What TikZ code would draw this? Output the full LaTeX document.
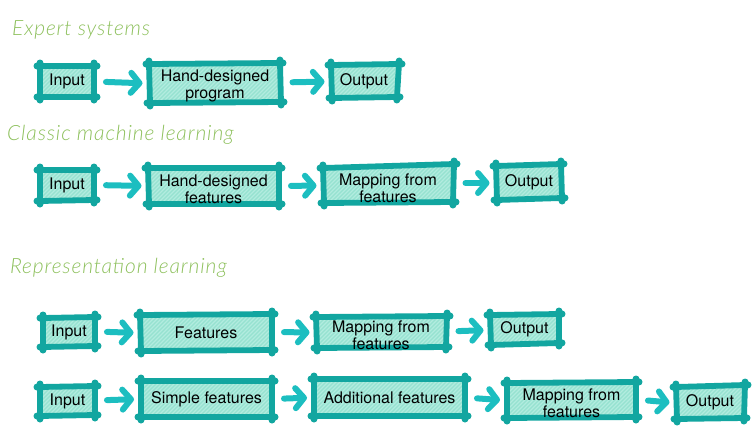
\documentclass[tikz,border=0pt]{standalone}
\usepackage{fontspec}
\setmainfont{TeX Gyre Heros}
\newfontfamily\handfont{Lato Light}[LetterSpace=4]
\usetikzlibrary{calc,arrows.meta}

\definecolor{borderc}{RGB}{18,166,160}
\definecolor{arrowc}{RGB}{28,190,192}
\definecolor{fillc}{RGB}{150,226,208}
\definecolor{hatchc}{RGB}{178,236,223}
\definecolor{titlec}{RGB}{141,192,92}

\tikzset{
  boxfill/.style={fill=fillc},
  hatch/.style={draw=hatchc, line width=1.2pt},
  border/.style={draw=borderc, line width=5.8pt, line cap=round},
  blob/.style={fill=borderc},
  boxtext/.style={inner sep=0pt, align=center, text=black,
    font=\fontsize{16}{17}\selectfont},
  twoline/.style={yshift=-3pt},
  arr/.style={draw=arrowc, line width=6pt, line cap=round,
    -{Straight Barb[length=8.5pt,width=20pt,line cap=round,line join=round]},
    shorten <=12pt, shorten >=7pt},
  title/.style={anchor=base west, inner sep=0pt, text=titlec,
    font=\handfont\itshape\fontsize{21}{24}\selectfont},
}

% sketchy box: [label options], name, corners TL, TR, BR, BL, label
\newcommand\skbox[7][]{%
  \coordinate (#2-tl) at (#3);
  \coordinate (#2-tr) at (#4);
  \coordinate (#2-br) at (#5);
  \coordinate (#2-bl) at (#6);
  \coordinate (#2-e) at ($(#2-tr)!0.5!(#2-br)$);
  \coordinate (#2-w) at ($(#2-tl)!0.5!(#2-bl)$);
  \fill[boxfill] (#2-tl) -- (#2-tr) -- (#2-br) -- (#2-bl) -- cycle;
  \begin{scope}
    \clip (#2-tl) -- (#2-tr) -- (#2-br) -- (#2-bl) -- cycle;
    \foreach \k in {-60,-56,...,172}
      \draw[hatch] ($(#2-bl)+(\k,4)$) -- ++(70,-70);
  \end{scope}
  \draw[border] ($(#2-tl)!-3pt!(#2-tr)$) -- ($(#2-tr)!-3pt!(#2-tl)$);
  \draw[border] ($(#2-tr)!-3pt!(#2-br)$) -- ($(#2-br)!-3pt!(#2-tr)$);
  \draw[border] ($(#2-br)!-3pt!(#2-bl)$) -- ($(#2-bl)!-3pt!(#2-br)$);
  \draw[border] ($(#2-bl)!-3pt!(#2-tl)$) -- ($(#2-tl)!-3pt!(#2-bl)$);
  \foreach \p/\q in {tl/tr,tr/tl,tr/br,br/tr,br/bl,bl/br,bl/tl,tl/bl}
    \fill[blob] ($(#2-\p)!-3pt!(#2-\q)$) circle (3.5pt);
  \node[boxtext,#1] (#2) at ($(#2-tl)!0.5!(#2-br)$) {#7};
}

\begin{document}
\begin{tikzpicture}[x=1pt,y=-1pt]
  \useasboundingbox (0,0) rectangle (753,426);

  % section titles
  \node[title] (t1) at (12,35) {Expert systems};
  \node[title] (t2) at (7,140) {Classic machine learning};
  \node[title] (t3) at (10,273) {Representation learning};

  % expert systems
  \skbox{a1}{40,66}{94,66}{94,97}{40,97}{Input}
  \skbox[twoline]{a2}{149,64}{280,63}{281,102}{150,103}{Hand-designed\\program}
  \skbox{a3}{331,65}{399,64}{397,97}{332,98}{Output}
  \draw[arr] (a1-e) -- (a2-w);
  \draw[arr] (a2-e) -- (a3-w);

  % classic machine learning
  \skbox{b1}{40,170}{94,170}{94,200}{40,201}{Input}
  \skbox[twoline]{b2}{148,168}{279,168}{279,204}{149,204}{Hand-designed\\features}
  \skbox[twoline]{b3}{323,168}{454,164}{453,202}{324,203}{Mapping from\\features}
  \skbox{b4}{496,166}{561,164}{562,198}{497,200}{Output}
  \draw[arr] (b1-e) -- (b2-w);
  \draw[arr] (b2-e) -- (b3-w);
  \draw[arr] (b3-e) -- (b4-w);

  % representation learning
  \skbox{c1}{43,318}{95,317}{95,346}{43,347}{Input}
  \skbox{c2}{140,315}{272,314}{272,350}{141,351}{Features}
  \skbox[twoline]{c3}{316,317}{447,316}{446,347}{317,348}{Mapping from\\features}
  \skbox{c4}{490,315}{559,314}{559,343}{491,345}{Output}
  \draw[arr] (c1-e) -- (c2-w);
  \draw[arr] (c2-e) -- (c3-w);
  \draw[arr] (c3-e) -- (c4-w);

  % deep learning chain
  \skbox{d1}{40,387}{95,386}{95,415}{40,416}{Input}
  \skbox{d2}{141,381}{272,381}{272,417}{141,417}{Simple features}
  \skbox{d3}{314,379}{465,379}{465,416}{314,416}{Additional features}
  \skbox[twoline]{d4}{507,383}{636,382}{636,417}{507,418}{Mapping from\\features}
  \skbox{d5}{676,387}{745,385}{744,418}{677,419}{Output}
  \draw[arr] (d1-e) -- (d2-w);
  \draw[arr] (d2-e) -- (d3-w);
  \draw[arr] (d3-e) -- (d4-w);
  \draw[arr] (d4-e) -- (d5-w);
\end{tikzpicture}
\end{document}
